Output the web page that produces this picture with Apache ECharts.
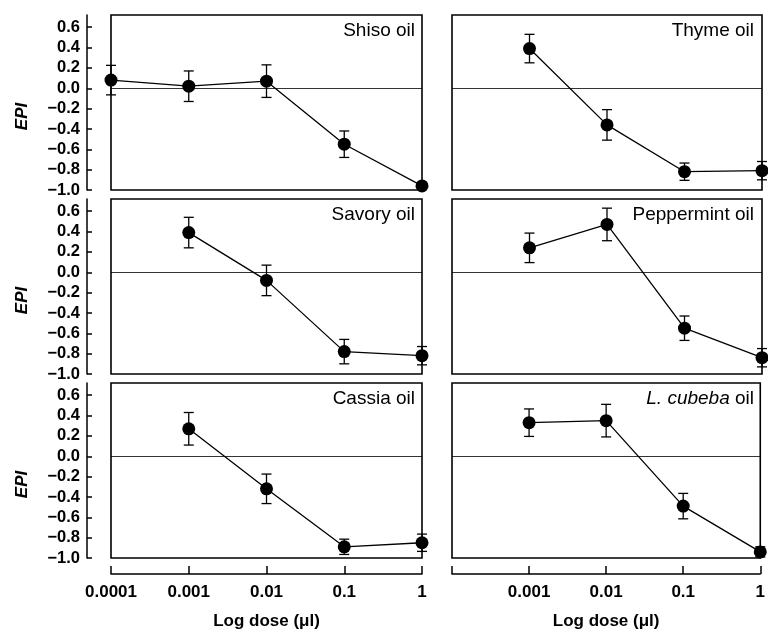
<!DOCTYPE html>
<html lang="en">
<head>
    <meta charset="UTF-8">
    <script src="https://cdn.jsdelivr.net/npm/echarts@6/dist/echarts.min.js"></script>
    <title>EPI</title>
    <style>
        body { margin: 0; background: #fff; }
    </style>
</head>
<body>
    <div id="main" style="width: 768px; height: 631px;"></div>
    <script>
        // doses on the log axis
        var doseTicksLeft = ['0.0001', '0.001', '0.01', '0.1', '1'];
        var doseTicksRight = ['', '0.001', '0.01', '0.1', '1'];

        var shisoDose = [0.0001, 0.001, 0.01, 0.1, 1];
        var shisoEpi = [0.08, 0.02, 0.07, -0.55, -0.96];
        var shisoErr = [0.145, 0.15, 0.16, 0.13, 0.03];

        var thymeDose = [0.001, 0.01, 0.1, 1];
        var thymeEpi = [0.39, -0.36, -0.82, -0.81];
        var thymeErr = [0.14, 0.15, 0.085, 0.09];

        var savoryDose = [0.001, 0.01, 0.1, 1];
        var savoryEpi = [0.39, -0.08, -0.78, -0.82];
        var savoryErr = [0.15, 0.15, 0.12, 0.09];

        var pepperDose = [0.001, 0.01, 0.1, 1];
        var pepperEpi = [0.24, 0.47, -0.55, -0.84];
        var pepperErr = [0.145, 0.16, 0.12, 0.09];

        var cassiaDose = [0.001, 0.01, 0.1, 1];
        var cassiaEpi = [0.27, -0.32, -0.89, -0.85];
        var cassiaErr = [0.16, 0.145, 0.075, 0.085];

        var cubebaDose = [0.001, 0.01, 0.1, 1];
        var cubebaEpi = [0.33, 0.35, -0.49, -0.94];
        var cubebaErr = [0.135, 0.16, 0.125, 0.05];

        var panels = [
            { name: 'Shiso oil', dose: shisoDose, epi: shisoEpi, err: shisoErr, row: 0, col: 0 },
            { name: 'Thyme oil', dose: thymeDose, epi: thymeEpi, err: thymeErr, row: 0, col: 1 },
            { name: 'Savory oil', dose: savoryDose, epi: savoryEpi, err: savoryErr, row: 1, col: 0 },
            { name: 'Peppermint oil', dose: pepperDose, epi: pepperEpi, err: pepperErr, row: 1, col: 1 },
            { name: 'Cassia oil', dose: cassiaDose, epi: cassiaEpi, err: cassiaErr, row: 2, col: 0 },
            { name: '{i|L. cubeba} oil', dose: cubebaDose, epi: cubebaEpi, err: cubebaErr, row: 2, col: 1 }
        ];

        var font = 'Liberation Sans, Arial, sans-serif';
        var rowTop = [15, 199, 383];
        var colLeft = [111, 452];
        var colWidth = [311, 310];
        var rowHeight = 175;

        var grid = [], xAxis = [], yAxis = [], series = [], title = [];

        function errorBar(params, api) {
            var x = api.value(0);
            var top = api.coord([x, api.value(2)]);
            var bot = api.coord([x, api.value(1)]);
            var w = 5;
            var st = { stroke: '#000', lineWidth: 1.3 };
            return {
                type: 'group',
                children: [
                    { type: 'line', shape: { x1: top[0], y1: top[1], x2: bot[0], y2: bot[1] }, style: st },
                    { type: 'line', shape: { x1: top[0] - w, y1: top[1], x2: top[0] + w, y2: top[1] }, style: st },
                    { type: 'line', shape: { x1: bot[0] - w, y1: bot[1], x2: bot[0] + w, y2: bot[1] }, style: st }
                ]
            };
        }

        panels.forEach(function (p, i) {
            var isBottom = p.row === 2;
            var isLeft = p.col === 0;
            grid.push({
                left: colLeft[p.col], top: rowTop[p.row],
                width: colWidth[p.col], height: rowHeight,
                show: true, borderColor: '#000', borderWidth: 1.6, backgroundColor: 'transparent'
            });
            var ticks = isLeft ? doseTicksLeft : doseTicksRight;
            xAxis.push({
                gridIndex: i, type: 'log', logBase: 10, min: 0.0001, max: 1,
                show: isBottom, offset: 16,
                axisLine: { show: true, onZero: false, lineStyle: { color: '#000', width: 1.5 } },
                axisTick: { show: true, inside: true, length: 8, lineStyle: { color: '#000', width: 1.5 } },
                minorTick: { show: false },
                splitLine: { show: false },
                axisLabel: {
                    margin: 10, color: '#000', fontSize: 17, fontWeight: 'bold', fontFamily: font,
                    formatter: function (v) {
                        var k = Math.round(Math.log(v) / Math.LN10) + 4;
                        return ticks[k] || '';
                    }
                },
                name: 'Log dose (\u03bcl)', nameLocation: 'middle', nameGap: 39,
                nameTextStyle: { color: '#000', fontSize: 17, fontWeight: 'bold', fontFamily: font }
            });
            yAxis.push({
                gridIndex: i, type: 'value', min: -1, max: 0.72, interval: 0.2,
                show: isLeft, offset: 24,
                axisLine: { show: true, lineStyle: { color: '#000', width: 1.5 } },
                axisTick: { show: true, inside: true, length: 5, lineStyle: { color: '#000', width: 1.5 } },
                splitLine: { show: false },
                axisLabel: {
                    margin: 7, color: '#000', fontSize: 16.5, fontWeight: 'bold', fontFamily: font,
                    showMaxLabel: false,
                    formatter: function (v) { return v.toFixed(1).replace('-', '\u2212'); }
                },
                name: 'EPI', nameLocation: 'middle', nameGap: 56, nameRotate: 90,
                nameTextStyle: {
                    color: '#000', fontSize: 17, fontWeight: 'bold', fontStyle: 'italic',
                    fontFamily: font, padding: [0, 28, 0, 0]
                }
            });
            var bars = p.dose.map(function (d, j) { return [d, p.epi[j] - p.err[j], p.epi[j] + p.err[j]]; });
            series.push({
                type: 'custom', xAxisIndex: i, yAxisIndex: i, clip: false, z: 1,
                renderItem: errorBar, encode: { x: 0, y: [1, 2] }, data: bars, silent: true
            });
            series.push({
                type: 'line', xAxisIndex: i, yAxisIndex: i, clip: false, z: 2,
                data: p.dose.map(function (d, j) { return [d, p.epi[j]]; }),
                symbol: 'circle', symbolSize: 13, showSymbol: true,
                itemStyle: { color: '#000' },
                lineStyle: { color: '#000', width: 1.3 },
                animation: false,
                markLine: {
                    silent: true, symbol: 'none', animation: false,
                    label: { show: false },
                    lineStyle: { color: '#000', width: 0.8, type: 'solid' },
                    data: [{ yAxis: 0 }]
                }
            });
            title.push({
                text: p.name,
                right: isLeft ? 353 : 14,
                top: rowTop[p.row] + 5,
                padding: 0,
                textStyle: {
                    color: '#000', fontSize: 19, fontWeight: 'normal', fontFamily: font, lineHeight: 22,
                    rich: { i: { fontStyle: 'italic', fontSize: 19, fontFamily: font, color: '#000', lineHeight: 22 } }
                }
            });
        });

        var myChart = echarts.init(document.getElementById('main'));
        myChart.setOption({
            animation: false,
            title: title,
            grid: grid,
            xAxis: xAxis,
            yAxis: yAxis,
            series: series
        });
    </script>
</body>
</html>
